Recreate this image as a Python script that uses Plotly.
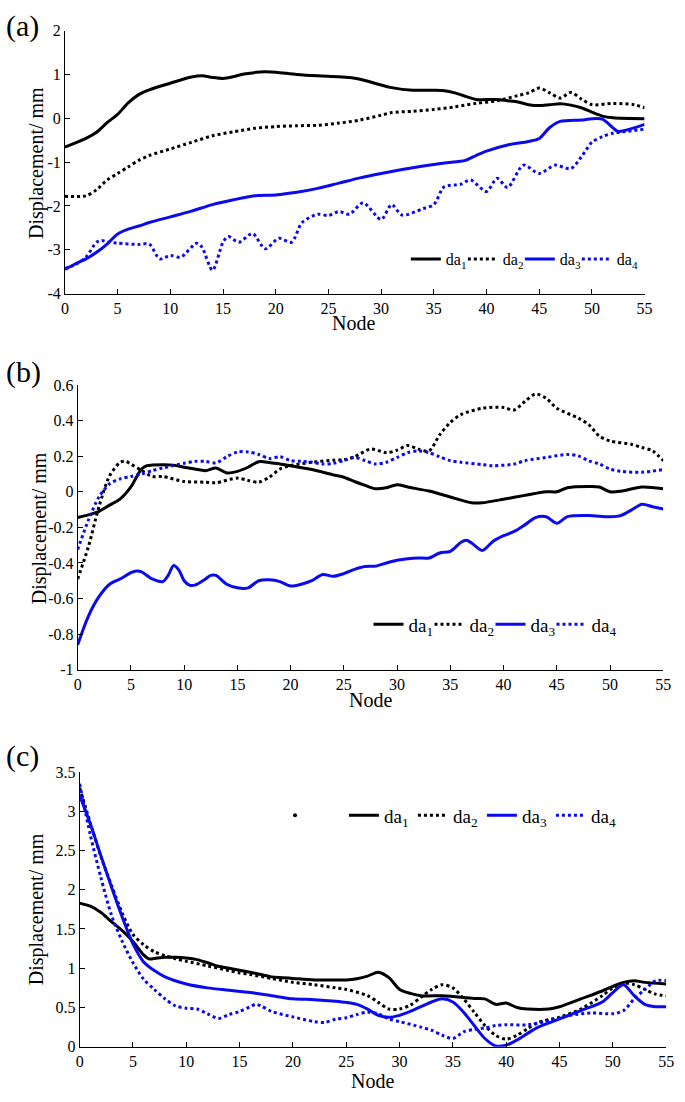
import plotly.graph_objects as go

# ---------------- data: panel (a) ----------------
a_da1_x = [0, 1, 2, 3, 4, 5, 6, 7, 8, 10, 12, 13, 14, 15, 16, 17, 19, 20, 22, 24, 26, 27, 28, 30, 31, 33, 35, 36, 37, 38, 39, 41, 42, 43, 44, 45, 46, 47, 48, 49, 50, 51, 52, 55]
a_da1_y = [-0.66, -0.56, -0.46, -0.32, -0.1, 0.09, 0.35, 0.54, 0.65, 0.8, 0.94, 0.97, 0.93, 0.91, 0.95, 1.01, 1.06, 1.05, 1.0, 0.97, 0.95, 0.93, 0.89, 0.76, 0.70, 0.64, 0.64, 0.63, 0.58, 0.5, 0.43, 0.43, 0.40, 0.37, 0.31, 0.29, 0.31, 0.33, 0.30, 0.24, 0.14, 0.05, 0.01, -0.01]
a_da2_x = [0, 2, 3, 4, 5, 6, 7, 8, 10, 12, 14, 16, 18, 20, 22, 24, 26, 28, 30, 31, 33, 35, 37, 39, 41, 43, 44, 45, 46, 47, 48, 49, 50, 52, 54, 55]
a_da2_y = [-1.78, -1.77, -1.63, -1.41, -1.26, -1.11, -0.96, -0.85, -0.70, -0.55, -0.40, -0.31, -0.23, -0.19, -0.17, -0.16, -0.11, -0.04, 0.07, 0.13, 0.16, 0.2, 0.26, 0.34, 0.40, 0.52, 0.58, 0.69, 0.58, 0.46, 0.59, 0.44, 0.31, 0.34, 0.31, 0.24]
a_da3_x = [0, 1, 2, 3, 4, 5, 6, 7, 8, 10, 12, 14, 16, 18, 20, 22, 24, 26, 28, 30, 32, 34, 36, 38, 39, 40, 42, 44, 45, 46, 47, 49, 50, 51, 52, 52.5, 54, 55]
a_da3_y = [-3.45, -3.32, -3.21, -3.06, -2.87, -2.64, -2.53, -2.46, -2.38, -2.25, -2.12, -1.97, -1.86, -1.77, -1.75, -1.69, -1.60, -1.48, -1.36, -1.26, -1.17, -1.09, -1.02, -0.96, -0.85, -0.75, -0.61, -0.53, -0.46, -0.21, -0.07, -0.04, -0.01, -0.02, -0.22, -0.30, -0.22, -0.14]
a_da4_x = [0, 1, 2, 3, 3.5, 4, 5, 7, 8, 9, 10, 11, 12.5, 13, 14, 15, 15.5, 16.5, 17.8, 19, 20.3, 21.5, 22.5, 24, 25, 26, 27, 28.3, 30, 31, 32, 34, 35, 36, 37.5, 38.5, 40, 41, 42, 43.5, 45, 46.5, 48, 49, 50, 51, 52, 53, 55]
a_da4_y = [-3.43, -3.34, -3.17, -2.83, -2.79, -2.82, -2.85, -2.88, -2.87, -3.21, -3.13, -3.17, -2.85, -2.94, -3.47, -2.83, -2.70, -2.83, -2.63, -2.98, -2.74, -2.83, -2.38, -2.19, -2.22, -2.13, -2.19, -1.93, -2.31, -1.97, -2.21, -2.06, -1.97, -1.56, -1.51, -1.41, -1.67, -1.37, -1.58, -1.07, -1.26, -1.07, -1.15, -0.88, -0.55, -0.42, -0.34, -0.31, -0.25]

# ---------------- data: panel (b) ----------------
b_da1_x = [0, 1, 2, 3, 4, 5, 5.5, 6, 6.5, 7, 9, 10, 11, 12, 13, 14, 15, 16, 17, 18, 19, 20, 22, 24, 25, 26, 27, 28, 29, 30, 31, 33, 35, 37, 38, 40, 42, 44, 45, 46, 48, 49, 50, 51, 53, 55]
b_da1_y = [-0.145, -0.13, -0.11, -0.075, -0.04, 0.027, 0.08, 0.128, 0.147, 0.15, 0.15, 0.138, 0.128, 0.119, 0.134, 0.106, 0.115, 0.138, 0.169, 0.165, 0.156, 0.147, 0.125, 0.095, 0.082, 0.058, 0.036, 0.017, 0.023, 0.04, 0.027, 0.004, -0.029, -0.062, -0.062, -0.042, -0.02, 0.0, 0.0, 0.023, 0.03, 0.027, 0.0, 0.003, 0.027, 0.017]
b_da2_x = [0, 1, 2, 3, 4, 4.5, 5, 6, 7, 8, 10, 12, 13, 15, 16, 17, 18, 19, 20, 22, 24, 25, 26, 27.5, 29, 30, 31, 32, 33, 34, 35, 36, 38, 40, 41, 42, 43, 44, 45, 47, 48, 49, 50, 52, 53, 54, 55]
b_da2_y = [-0.49, -0.31, -0.084, 0.09, 0.166, 0.171, 0.156, 0.12, 0.086, 0.086, 0.058, 0.054, 0.051, 0.077, 0.064, 0.054, 0.082, 0.128, 0.147, 0.166, 0.178, 0.18, 0.197, 0.24, 0.22, 0.234, 0.26, 0.24, 0.23, 0.32, 0.39, 0.434, 0.47, 0.474, 0.46, 0.508, 0.55, 0.526, 0.47, 0.415, 0.378, 0.313, 0.286, 0.267, 0.249, 0.23, 0.175]
b_da3_x = [0, 1, 2, 3, 4, 5, 5.5, 6, 7, 8, 8.5, 9, 9.5, 10, 10.5, 11, 12, 12.5, 13, 14, 15, 16, 17, 18, 19, 20, 21, 22, 23, 24, 25, 26, 27, 28, 29, 30, 31, 32, 33, 34, 35, 36, 36.5, 37, 38, 39, 40, 41, 42, 43, 44, 45, 46, 48, 50, 51, 52, 53, 54, 55]
b_da3_y = [-0.86, -0.70, -0.59, -0.52, -0.49, -0.455, -0.445, -0.45, -0.49, -0.505, -0.47, -0.415, -0.44, -0.50, -0.525, -0.525, -0.49, -0.47, -0.47, -0.52, -0.54, -0.54, -0.50, -0.495, -0.505, -0.53, -0.52, -0.50, -0.465, -0.475, -0.46, -0.436, -0.42, -0.418, -0.40, -0.385, -0.376, -0.372, -0.372, -0.344, -0.335, -0.284, -0.273, -0.288, -0.33, -0.279, -0.247, -0.223, -0.186, -0.145, -0.14, -0.177, -0.14, -0.134, -0.14, -0.134, -0.103, -0.07, -0.084, -0.097]
b_da4_x = [0, 1, 2, 3, 4, 5, 6, 7, 8, 10, 11, 12, 13, 14, 15, 16, 17, 18, 19, 20, 21, 22, 23, 24, 25, 26, 27, 28, 29, 30, 31, 32, 33, 34, 35, 36, 38, 39, 41, 42, 44, 46, 47, 48, 49, 50, 51, 53, 55]
b_da4_y = [-0.325, -0.16, -0.029, 0.045, 0.073, 0.086, 0.10, 0.119, 0.134, 0.16, 0.171, 0.171, 0.162, 0.197, 0.224, 0.224, 0.21, 0.187, 0.197, 0.175, 0.171, 0.166, 0.156, 0.16, 0.175, 0.193, 0.175, 0.156, 0.166, 0.193, 0.22, 0.23, 0.22, 0.197, 0.175, 0.166, 0.153, 0.147, 0.156, 0.175, 0.193, 0.21, 0.202, 0.175, 0.156, 0.128, 0.115, 0.11, 0.125]

# ---------------- data: panel (c) ----------------
c_da1_x = [0, 1, 2, 3, 4, 5, 6, 6.5, 7, 8, 9, 10, 11, 12, 13, 14, 15, 16, 17, 18, 19, 20, 22, 24, 25, 26, 27, 28, 29, 30, 31, 32, 34, 35, 37, 38, 39, 40, 41, 42, 44, 45, 47, 49, 50, 51, 52, 53, 55]
c_da1_y = [1.83, 1.79, 1.71, 1.59, 1.48, 1.34, 1.17, 1.12, 1.125, 1.14, 1.14, 1.13, 1.11, 1.07, 1.025, 1.0, 0.975, 0.95, 0.92, 0.89, 0.88, 0.87, 0.85, 0.85, 0.85, 0.866, 0.9, 0.95, 0.88, 0.73, 0.68, 0.65, 0.65, 0.64, 0.615, 0.61, 0.54, 0.556, 0.50, 0.48, 0.48, 0.51, 0.61, 0.71, 0.77, 0.82, 0.84, 0.82, 0.80]
c_da2_x = [0, 1, 2, 3, 4, 5, 6, 7, 8, 9, 10, 12, 14, 15, 16, 18, 20, 22, 24, 25, 27, 28, 29, 30, 31, 32, 33, 34, 35, 36, 37, 38, 39, 40, 41, 42, 43, 45, 47, 49, 50, 51, 52, 53, 54, 55]
c_da2_y = [3.3, 2.85, 2.42, 2.05, 1.7, 1.43, 1.3, 1.21, 1.16, 1.12, 1.09, 1.03, 0.97, 0.94, 0.92, 0.87, 0.82, 0.79, 0.75, 0.73, 0.65, 0.565, 0.48, 0.48, 0.53, 0.63, 0.73, 0.79, 0.75, 0.61, 0.44, 0.27, 0.146, 0.096, 0.146, 0.23, 0.31, 0.376, 0.48, 0.65, 0.75, 0.81, 0.79, 0.73, 0.67, 0.65]
c_da3_x = [0, 1, 2, 3, 4, 5, 6, 7, 8, 10, 12, 14, 16, 18, 20, 22, 24, 25, 26, 27, 28, 29, 30, 31, 32, 33, 34, 35, 36, 37, 38, 39, 40, 41, 42, 43, 45, 47, 49, 50, 51, 52, 53, 54, 55]
c_da3_y = [3.2, 2.84, 2.43, 2.03, 1.65, 1.31, 1.08, 0.97, 0.89, 0.8, 0.75, 0.72, 0.69, 0.65, 0.61, 0.6, 0.58, 0.565, 0.54, 0.48, 0.4, 0.376, 0.4, 0.45, 0.51, 0.57, 0.61, 0.57, 0.44, 0.27, 0.105, 0.01, 0.02, 0.084, 0.17, 0.25, 0.355, 0.46, 0.57, 0.69, 0.79, 0.65, 0.54, 0.51, 0.51]
c_da4_x = [0, 1, 2, 3, 4, 5, 6, 7, 8, 9, 10, 11, 12, 13, 14, 15, 16, 16.5, 17, 18, 20, 22, 23, 24, 25, 26, 27, 28, 29, 30, 32, 33, 34, 35, 36, 37, 38, 39, 40, 42, 44, 46, 48, 50, 51, 52, 53, 54, 55]
c_da4_y = [3.35, 2.7, 2.15, 1.67, 1.34, 1.07, 0.86, 0.73, 0.61, 0.52, 0.49, 0.48, 0.42, 0.36, 0.41, 0.45, 0.51, 0.54, 0.52, 0.45, 0.38, 0.32, 0.31, 0.35, 0.37, 0.41, 0.44, 0.42, 0.355, 0.32, 0.25, 0.21, 0.146, 0.105, 0.19, 0.22, 0.24, 0.27, 0.28, 0.28, 0.33, 0.40, 0.43, 0.42, 0.46, 0.61, 0.73, 0.84, 0.84]
c_dot_x = [20.2]
c_dot_y = [2.95]

# ---------------- labels / ticks ----------------
series_names = ["da<sub>1</sub>", "da<sub>2</sub>", "da<sub>3</sub>", "da<sub>4</sub>"]
x_ticks = [0, 5, 10, 15, 20, 25, 30, 35, 40, 45, 50, 55]
a_yticks = [-4, -3, -2, -1, 0, 1, 2]
a_ytext = ["-4", "-3", "-2", "-1", "0", "1", "2"]
b_yticks = [-1, -0.8, -0.6, -0.4, -0.2, 0, 0.2, 0.4, 0.6]
b_ytext = ["-1", "-0.8", "-0.6", "-0.4", "-0.2", "0", "0.2", "0.4", "0.6"]
c_yticks = [0, 0.5, 1, 1.5, 2, 2.5, 3, 3.5]
c_ytext = ["0", "0.5", "1", "1.5", "2", "2.5", "3", "3.5"]
panel_labels = ["(a)", "(b)", "(c)"]
x_title = "Node"
y_title = "Displacement/ mm"

BLUE = "#0a0af0"
styles = [("black", "solid"), ("black", "dot"), (BLUE, "solid"), (BLUE, "dot")]
FONT = "Liberation Serif"

W, H = 685, 1102

fig = go.Figure()

# (xaxis, yaxis, legend, per-entry legend widths, series)
panels = [
    ("x", "y", "legend", [12, 12, 12, 30],
     [(a_da1_x, a_da1_y), (a_da2_x, a_da2_y), (a_da3_x, a_da3_y), (a_da4_x, a_da4_y)]),
    ("x2", "y2", "legend2", [16, 16, 16, 32],
     [(b_da1_x, b_da1_y), (b_da2_x, b_da2_y), (b_da3_x, b_da3_y), (b_da4_x, b_da4_y)]),
    ("x3", "y3", "legend3", [24, 24, 24, 32],
     [(c_da1_x, c_da1_y), (c_da2_x, c_da2_y), (c_da3_x, c_da3_y), (c_da4_x, c_da4_y)]),
]
for xa, ya, lg, lws, series in panels:
    for (xs, ys), name, (col, dash), lw in zip(series, series_names, styles, lws):
        fig.add_trace(go.Scatter(
            x=xs, y=ys, mode="lines", name=name, xaxis=xa, yaxis=ya, legend=lg,
            legendwidth=lw,
            line=dict(color=col, dash=dash, width=3, shape="spline", smoothing=0.8),
        ))

fig.add_trace(go.Scatter(x=c_dot_x, y=c_dot_y, mode="markers", xaxis="x3", yaxis="y3",
                         marker=dict(color="black", size=4), showlegend=False))

def px(v):
    return v / W

def py(v):
    return 1 - v / H

TICKFONT = dict(family=FONT, size=16, color="black")

def xaxis_cfg(dom, anchor):
    return dict(domain=dom, anchor=anchor, range=[0, 55], tickvals=x_ticks,
                ticks="inside", ticklen=5, tickcolor="black", showline=True,
                linecolor="black", linewidth=1, showgrid=False, zeroline=False,
                tickfont=TICKFONT, mirror=False)

def yaxis_cfg(dom, anchor, rng, tv, tt):
    return dict(domain=dom, anchor=anchor, range=rng, tickvals=tv, ticktext=tt,
                ticks="inside", ticklen=5, tickcolor="black", showline=True,
                linecolor="black", linewidth=1, showgrid=False, zeroline=False,
                tickfont=TICKFONT, mirror=False)

def leg(x, y, size):
    return dict(x=x, y=y, orientation="h", font=dict(family=FONT, size=size, color="black"),
                bgcolor="rgba(0,0,0,0)", itemwidth=30, tracegroupgap=0,
                entrywidthmode="pixels", xanchor="left", yanchor="middle")

fig.update_layout(
    width=W, height=H, margin=dict(l=0, r=0, t=0, b=0),
    paper_bgcolor="white", plot_bgcolor="white",
    xaxis=xaxis_cfg([px(62), px(652)], "y"),
    yaxis=yaxis_cfg([py(290), py(23)], "x", [-4, 2], a_yticks, a_ytext),
    xaxis2=xaxis_cfg([px(75), px(671)], "y2"),
    yaxis2=yaxis_cfg([py(672), py(383)], "x2", [-1, 0.6], b_yticks, b_ytext),
    xaxis3=xaxis_cfg([px(77), px(674)], "y3"),
    yaxis3=yaxis_cfg([py(1055), py(776)], "x3", [0, 3.5], c_yticks, c_ytext),
    legend=leg(px(409), py(255), 16),
    legend2=leg(px(371), py(626), 19),
    legend3=leg(px(346), py(820), 19),
)

annots = []
for lab, ypix in zip(panel_labels, [18, 370, 760]):
    annots.append(dict(text=lab, x=px(0), y=py(ypix), xref="paper", yref="paper",
                       xanchor="left", yanchor="middle", showarrow=False,
                       font=dict(family=FONT, size=30, color="black")))
for ycen, xcen in [(157, 33), (528, 37), (915, 33)]:
    annots.append(dict(text=y_title, x=px(xcen), y=py(ycen), xref="paper", yref="paper",
                       xanchor="center", yanchor="middle", textangle=-90, showarrow=False,
                       font=dict(family=FONT, size=20, color="black")))
for ycen, xcen in [(320, 356), (703, 373), (1090, 375)]:
    annots.append(dict(text=x_title, x=px(xcen), y=py(ycen), xref="paper", yref="paper",
                       xanchor="center", yanchor="middle", showarrow=False,
                       font=dict(family=FONT, size=20, color="black")))
fig.update_layout(annotations=annots)

# remove the browser's default 8px body margin so the figure fills the window exactly
fig.write_html("out.html", config={"displayModeBar": False},
               post_script="document.body.style.margin='0px';")
